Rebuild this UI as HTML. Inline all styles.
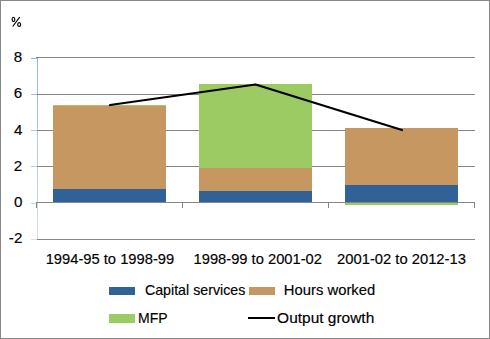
<!DOCTYPE html>
<html><head><meta charset="utf-8">
<style>
html,body{margin:0;padding:0;background:#fff;}
body{width:490px;height:339px;overflow:hidden;position:relative;}
svg{position:absolute;left:0;top:0;display:block;}
text{font-family:"Liberation Sans",sans-serif;font-size:14px;fill:#000;stroke:#000;stroke-width:0.15px;}
</style></head><body>
<svg width="490" height="339" viewBox="0 0 490 339">
<defs>
<linearGradient id="ax" x1="0" y1="0" x2="0" y2="1">
<stop offset="0" stop-color="#94b4e6"/>
<stop offset="1" stop-color="#d6def4"/>
</linearGradient>
</defs>
<rect x="0" y="0" width="490" height="339" fill="#fff"/>
<!-- border -->
<rect x="0.5" y="0.5" width="489" height="338" fill="none" stroke="#878787" stroke-width="1"/>
<g shape-rendering="crispEdges">
<!-- value axis -->
<rect x="37" y="58" width="1" height="182" fill="url(#ax)"/>
<rect x="31" y="58" width="6" height="1" fill="#96b5e6"/>
<rect x="31" y="94" width="6" height="1" fill="#a0bce8"/>
<rect x="31" y="130" width="6" height="1" fill="#aec4ea"/>
<rect x="31" y="166" width="6" height="1" fill="#bccdee"/>
<rect x="31" y="203" width="6" height="1" fill="#c9d6f0"/>
<rect x="31" y="239" width="6" height="1" fill="#d6def4"/>
<!-- gridlines -->
<rect x="36" y="57" width="439" height="1" fill="#868686"/>
<rect x="37" y="94" width="438" height="1" fill="#868686"/>
<rect x="37" y="130" width="438" height="1" fill="#868686"/>
<rect x="37" y="166" width="438" height="1" fill="#868686"/>
<rect x="37" y="239" width="438" height="1" fill="#868686"/>
<!-- bars -->
<rect x="53" y="105" width="113" height="1" fill="#9bcb62"/>
<rect x="53" y="106" width="113" height="83" fill="#c69760"/>
<rect x="53" y="189" width="113" height="13" fill="#306297"/>
<rect x="199" y="84" width="113" height="84" fill="#9bcb62"/>
<rect x="199" y="168" width="113" height="23" fill="#c69760"/>
<rect x="199" y="191" width="113" height="11" fill="#306297"/>
<rect x="345" y="128" width="113" height="57" fill="#c69760"/>
<rect x="345" y="185" width="113" height="17" fill="#306297"/>
<rect x="345" y="203" width="113" height="2" fill="#9bcb62"/>
<!-- category axis -->
<rect x="36" y="202" width="439" height="1" fill="#868686"/>
<rect x="36" y="202" width="1" height="6" fill="#868686"/>
<rect x="182" y="202" width="1" height="6" fill="#868686"/>
<rect x="328" y="202" width="1" height="6" fill="#868686"/>
<rect x="474" y="202" width="1" height="6" fill="#868686"/>
<!-- legend swatches -->
<rect x="109" y="287" width="26" height="8" fill="#306297"/>
<rect x="249" y="287" width="26" height="8" fill="#c69760"/>
<rect x="109" y="314" width="26" height="9" fill="#9bcb62"/>
<rect x="248" y="317" width="27" height="2" fill="#000"/>
</g>
<!-- output growth line -->
<polyline points="110,105 255.5,84.5 402,130" fill="none" stroke="#000" stroke-width="2.25" stroke-linecap="round" stroke-linejoin="round"/>
<!-- text -->
<g fill="none" stroke="#000" stroke-width="1.15">
<ellipse cx="13.45" cy="19.45" rx="1.35" ry="2.05"/>
<ellipse cx="19.15" cy="24.5" rx="1.45" ry="1.95"/>
<line x1="12.7" y1="26.5" x2="19.7" y2="17.2"/>
</g>
<text transform="translate(13.72,62) scale(1.08,1)">8</text>
<text transform="translate(13.72,98) scale(1.08,1)">6</text>
<text transform="translate(14.0,135) scale(1.08,1)">4</text>
<text transform="translate(13.83,171) scale(1.08,1)">2</text>
<text transform="translate(13.92,207) scale(1.08,1)">0</text>
<text transform="translate(8.86,243) scale(1.08,1)">-2</text>
<text transform="translate(45.64,264) scale(1.053,1)">1994-95 to 1998-99</text>
<text transform="translate(193.54,264) scale(1.051,1)">1998-99 to 2001-02</text>
<text transform="translate(337.04,264) scale(1.056,1)">2001-02 to 2012-13</text>
<text transform="translate(144.89,295) scale(1.018,1)">Capital services</text>
<text transform="translate(283.83,295) scale(1.06,1)">Hours worked</text>
<text transform="translate(138.0,323) scale(1.0,1)">MFP</text>
<text transform="translate(277.1,323) scale(1.105,1)">Output growth</text>
</svg>
</body></html>
